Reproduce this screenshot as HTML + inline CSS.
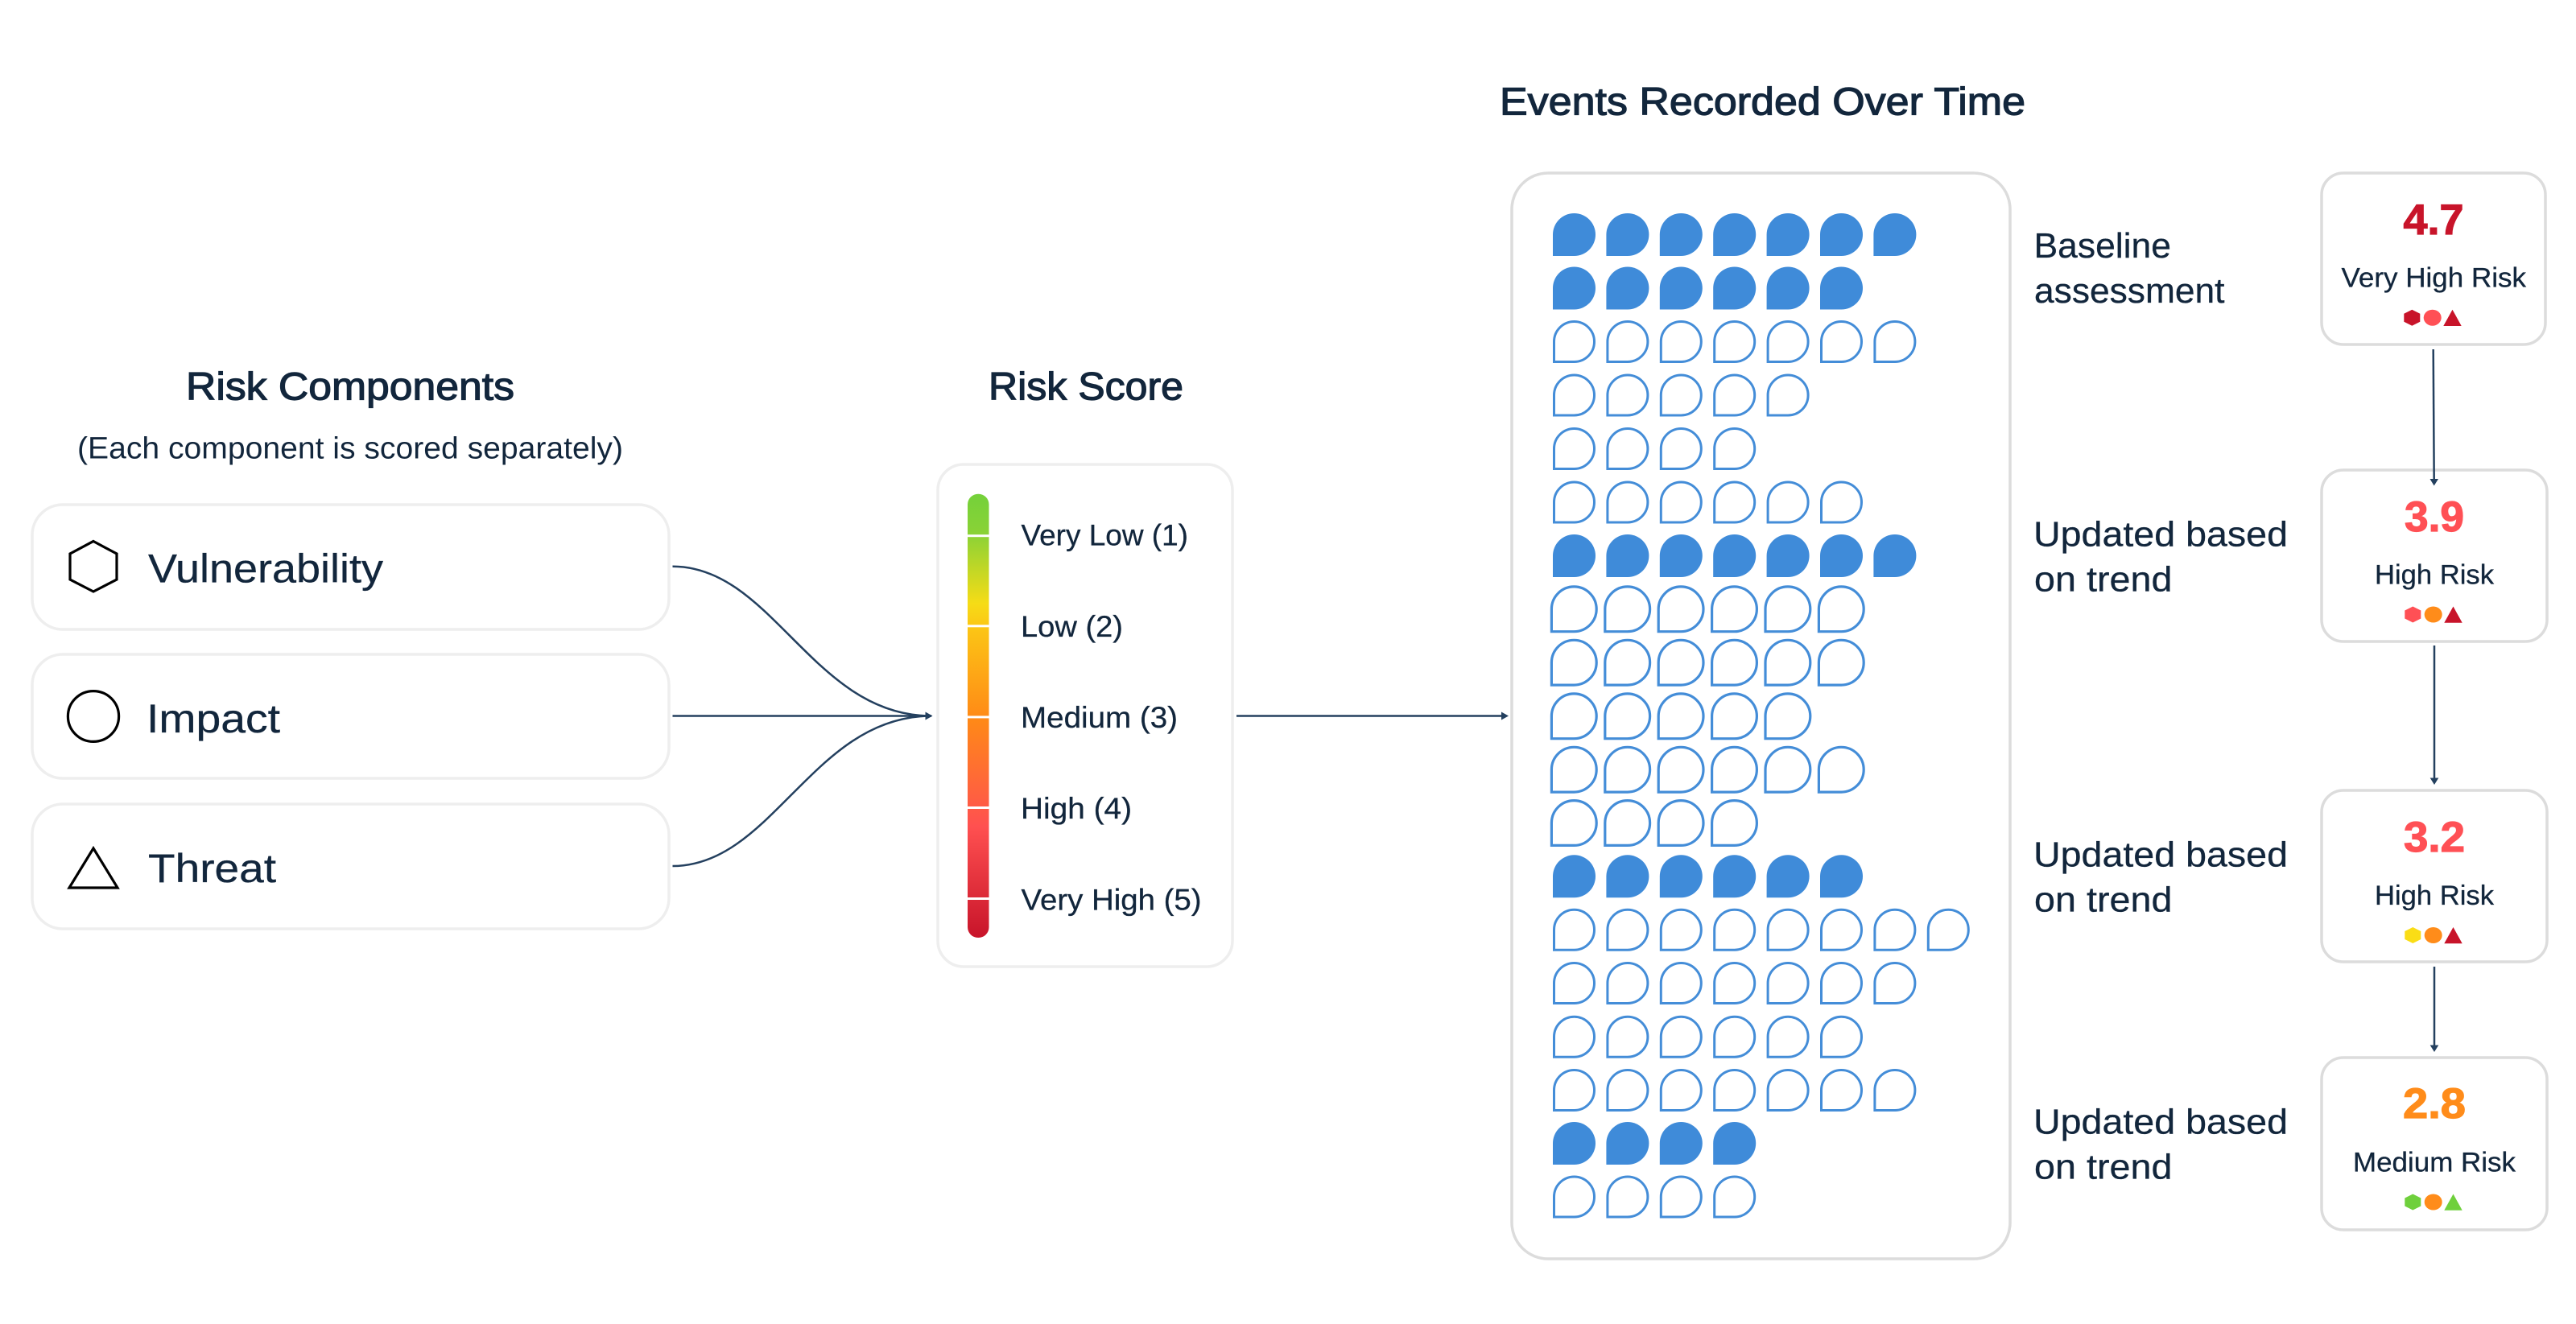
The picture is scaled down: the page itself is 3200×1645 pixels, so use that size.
<!DOCTYPE html>
<html lang="en">
<head>
<meta charset="utf-8">
<title>Risk Score Diagram</title>
<style>
html,body{margin:0;padding:0;background:#fff;width:3200px;height:1645px;overflow:hidden}
svg{display:block}
text{font-family:"Liberation Sans",Arial,sans-serif;fill:#12263c}
.h{font-size:48px;stroke:#12263c;stroke-width:1.2px}
.sub{font-size:38px}
.lab{font-size:50px;stroke:#12263c;stroke-width:.3px}
.sc{font-size:37px;stroke:#12263c;stroke-width:.3px}
.side{font-size:44px;stroke:#12263c;stroke-width:.3px}
.rl{font-size:34px;stroke:#12263c;stroke-width:.3px}
.num{font-size:53px;font-weight:700}
.card{fill:#fff;stroke:#eeeeee;stroke-width:3.5}
.card2{fill:#fff;stroke:#dcdcdc;stroke-width:3.5}
.line{fill:none;stroke:#24405f;stroke-width:2.5}
.icon{fill:none;stroke:#000;stroke-width:3.2}
</style>
</head>
<body>
<svg xmlns="http://www.w3.org/2000/svg" width="3200" height="1645" viewBox="0 0 3200 1645">
<defs>
<linearGradient id="bar" x1="0" y1="0" x2="0" y2="1">
<stop offset="0" stop-color="#74d13a"/>
<stop offset=".09" stop-color="#8ad236"/>
<stop offset=".247" stop-color="#f6dc16"/>
<stop offset=".3" stop-color="#fcc615"/>
<stop offset=".504" stop-color="#ff8a16"/>
<stop offset=".75" stop-color="#ff5050"/>
<stop offset="1" stop-color="#c8142a"/>
</linearGradient>
<path id="f" d="M0 53V26.5A26.5 26.5 0 1 1 26.5 53Z" fill="#3f8bd9"/>
<path id="o" d="M1.5 51.5V26.5A25 25 0 1 1 26.5 51.5Z" fill="#fff" stroke="#448dd8" stroke-width="3"/>
<path id="b" d="M1.6 57.4V29.5A27.9 27.9 0 1 1 29.5 57.4Z" fill="#fff" stroke="#448dd8" stroke-width="3.2"/>
<g id="F4"><use href="#f"/><use href="#f" x="66.4"/><use href="#f" x="132.8"/><use href="#f" x="199.2"/></g>
<g id="F6"><use href="#F4"/><use href="#f" x="265.6"/><use href="#f" x="332"/></g>
<g id="F7"><use href="#F6"/><use href="#f" x="398.4"/></g>
<g id="O4"><use href="#o"/><use href="#o" x="66.4"/><use href="#o" x="132.8"/><use href="#o" x="199.2"/></g>
<g id="O5"><use href="#O4"/><use href="#o" x="265.6"/></g>
<g id="O6"><use href="#O5"/><use href="#o" x="332"/></g>
<g id="O7"><use href="#O6"/><use href="#o" x="398.4"/></g>
<g id="O8"><use href="#O7"/><use href="#o" x="464.8"/></g>
<g id="B4"><use href="#b"/><use href="#b" x="66.4"/><use href="#b" x="132.8"/><use href="#b" x="199.2"/></g>
<g id="B5"><use href="#B4"/><use href="#b" x="265.6"/></g>
<g id="B6"><use href="#B5"/><use href="#b" x="332"/></g>
</defs>

<rect width="3200" height="1645" fill="#fff"/>

<!-- Headings -->
<text class="h" x="231" y="496.5" textLength="408" lengthAdjust="spacingAndGlyphs">Risk Components</text>
<text class="sub" x="96" y="569.5" textLength="678" lengthAdjust="spacingAndGlyphs">(Each component is scored separately)</text>
<text class="h" x="1228" y="496.5" textLength="242" lengthAdjust="spacingAndGlyphs">Risk Score</text>
<text class="h" x="1863" y="142.4" textLength="653" lengthAdjust="spacingAndGlyphs">Events Recorded Over Time</text>

<!-- Component cards -->
<rect class="card" x="40" y="627" width="791" height="155" rx="38"/>
<rect class="card" x="40" y="813" width="791" height="154" rx="38"/>
<rect class="card" x="40" y="999" width="791" height="155" rx="38"/>
<polygon class="icon" points="116,672.5 145,688 145,720 116,735 87,720 87,688"/>
<ellipse class="icon" cx="116" cy="890" rx="31.6" ry="31.4"/>
<polygon class="icon" points="116,1054 146,1103 86,1103"/>
<text class="lab" x="184" y="723.6" textLength="292" lengthAdjust="spacingAndGlyphs">Vulnerability</text>
<text class="lab" x="182" y="910" textLength="166" lengthAdjust="spacingAndGlyphs">Impact</text>
<text class="lab" x="184" y="1096" textLength="159" lengthAdjust="spacingAndGlyphs">Threat</text>

<!-- Connectors to score -->
<path class="line" d="M835.5 703.7C960 703.7 1010 889.5 1157 889.5"/>
<path class="line" d="M835.5 889.5H1152"/>
<path class="line" d="M835.5 1076C960 1076 1010 889.5 1157 889.5"/>
<polygon points="1158.5,889.5 1149.5,884.5 1149.5,894.5" fill="#24405f"/>

<!-- Score card -->
<rect class="card" x="1165" y="577" width="366" height="624" rx="32"/>
<rect x="1202" y="613.7" width="26.5" height="551.3" rx="13" fill="url(#bar)"/>
<g fill="#fff">
<rect x="1200" y="664.2" width="30" height="3"/>
<rect x="1200" y="776.3" width="30" height="3"/>
<rect x="1200" y="889.4" width="30" height="3"/>
<rect x="1200" y="1002" width="30" height="3"/>
<rect x="1200" y="1115" width="30" height="3"/>
</g>
<text class="sc" x="1268.5" y="677.5" textLength="207.5" lengthAdjust="spacingAndGlyphs">Very Low (1)</text>
<text class="sc" x="1268" y="791" textLength="127" lengthAdjust="spacingAndGlyphs">Low (2)</text>
<text class="sc" x="1268" y="904" textLength="195" lengthAdjust="spacingAndGlyphs">Medium (3)</text>
<text class="sc" x="1268" y="1017" textLength="138" lengthAdjust="spacingAndGlyphs">High (4)</text>
<text class="sc" x="1268.5" y="1130.5" textLength="224" lengthAdjust="spacingAndGlyphs">Very High (5)</text>

<!-- Score to events arrow -->
<path class="line" d="M1536 889.5H1868"/>
<polygon points="1874,889.5 1865,884.5 1865,894.5" fill="#24405f"/>

<!-- Events card -->
<rect class="card2" x="1878" y="215" width="619" height="1349" rx="45"/>
<use href="#F7" x="1929" y="265"/>
<use href="#F6" x="1929" y="331.5"/>
<use href="#O7" x="1929" y="398"/>
<use href="#O5" x="1929" y="464.5"/>
<use href="#O4" x="1929" y="531"/>
<use href="#O6" x="1929" y="597.5"/>
<use href="#F7" x="1929" y="664"/>
<use href="#B6" x="1925.8" y="727.3"/>
<use href="#B6" x="1925.8" y="793.7"/>
<use href="#B5" x="1925.8" y="860.3"/>
<use href="#B6" x="1925.8" y="926.7"/>
<use href="#B4" x="1925.8" y="993"/>
<use href="#F6" x="1929" y="1062.3"/>
<use href="#O8" x="1929" y="1128.7"/>
<use href="#O7" x="1929" y="1195"/>
<use href="#O6" x="1929" y="1261.7"/>
<use href="#O7" x="1929" y="1328"/>
<use href="#F4" x="1929" y="1394"/>
<use href="#O4" x="1929" y="1460.5"/>

<!-- Side text -->
<text class="side" x="2526.5" y="320" textLength="170.5" lengthAdjust="spacingAndGlyphs">Baseline</text>
<text class="side" x="2527" y="376" textLength="236.5" lengthAdjust="spacingAndGlyphs">assessment</text>
<text class="side" x="2526" y="678.7" textLength="316" lengthAdjust="spacingAndGlyphs">Updated based</text>
<text class="side" x="2527" y="734.7" textLength="171.5" lengthAdjust="spacingAndGlyphs">on trend</text>
<text class="side" x="2526" y="1076.7" textLength="316" lengthAdjust="spacingAndGlyphs">Updated based</text>
<text class="side" x="2527" y="1132.7" textLength="171.5" lengthAdjust="spacingAndGlyphs">on trend</text>
<text class="side" x="2526" y="1408.3" textLength="316" lengthAdjust="spacingAndGlyphs">Updated based</text>
<text class="side" x="2527" y="1464.3" textLength="171.5" lengthAdjust="spacingAndGlyphs">on trend</text>

<!-- Right cards -->
<rect class="card2" x="2884" y="215" width="278" height="213" rx="27"/>
<rect class="card2" x="2884" y="584" width="280" height="213" rx="27"/>
<rect class="card2" x="2884" y="982" width="280" height="213" rx="27"/>
<rect class="card2" x="2884" y="1314" width="280" height="214" rx="27"/>

<text class="num" x="2985.5" y="291" textLength="75" lengthAdjust="spacingAndGlyphs" style="fill:#c8142a;stroke:#c8142a;stroke-width:1.2px">4.7</text>
<text class="rl" x="2908.5" y="356.5" textLength="229.5" lengthAdjust="spacingAndGlyphs">Very High Risk</text>
<g transform="translate(2986.3 384.7)">
<polygon points="10,0 20,5 20,15 10,20 0,15 0,5" fill="#c8142a"/><ellipse cx="35.4" cy="10" rx="11" ry="10" fill="#ff5055"/><polygon points="49,20.3 71.4,20.3 60.2,0" fill="#c8142a"/>
</g>

<text class="num" x="2987" y="660" textLength="74" lengthAdjust="spacingAndGlyphs" style="fill:#ff5055;stroke:#ff5055;stroke-width:1.2px">3.9</text>
<text class="rl" x="2950" y="725.5" textLength="148" lengthAdjust="spacingAndGlyphs">High Risk</text>
<g transform="translate(2987.3 753.5)">
<polygon points="10,0 20,5 20,15 10,20 0,15 0,5" fill="#ff5055"/><ellipse cx="35.4" cy="10" rx="11" ry="10" fill="#ff8c1a"/><polygon points="49,20.3 71.4,20.3 60.2,0" fill="#c8142a"/>
</g>

<text class="num" x="2986" y="1058" textLength="76" lengthAdjust="spacingAndGlyphs" style="fill:#ff5055;stroke:#ff5055;stroke-width:1.2px">3.2</text>
<text class="rl" x="2950" y="1124" textLength="148" lengthAdjust="spacingAndGlyphs">High Risk</text>
<g transform="translate(2987.3 1152)">
<polygon points="10,0 20,5 20,15 10,20 0,15 0,5" fill="#fadd16"/><ellipse cx="35.4" cy="10" rx="11" ry="10" fill="#ff8c1a"/><polygon points="49,20.3 71.4,20.3 60.2,0" fill="#c8142a"/>
</g>

<text class="num" x="2985" y="1389" textLength="78" lengthAdjust="spacingAndGlyphs" style="fill:#ff8c1a;stroke:#ff8c1a;stroke-width:1.2px">2.8</text>
<text class="rl" x="2923" y="1455.6" textLength="202" lengthAdjust="spacingAndGlyphs">Medium Risk</text>
<g transform="translate(2987.3 1483.5)">
<polygon points="10,0 20,5 20,15 10,20 0,15 0,5" fill="#6fd03c"/><ellipse cx="35.4" cy="10" rx="11" ry="10" fill="#ff8c1a"/><polygon points="49,20.3 71.4,20.3 60.2,0" fill="#6fd03c"/>
</g>

<!-- Vertical arrows -->
<path class="line" d="M3022.7 434L3023.7 597"/>
<polygon points="3023.7,603.5 3018.5,595 3029,595" fill="#24405f"/>
<path class="line" d="M3024 802V969"/>
<polygon points="3024,975 3018.7,966.5 3029.3,966.5" fill="#24405f"/>
<path class="line" d="M3024 1201V1301"/>
<polygon points="3024,1307 3018.7,1298.5 3029.3,1298.5" fill="#24405f"/>
</svg>
</body>
</html>
